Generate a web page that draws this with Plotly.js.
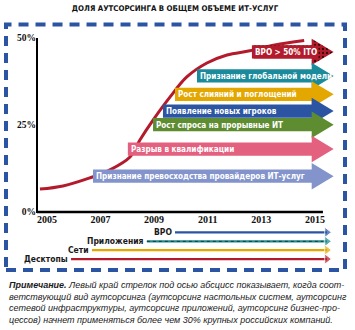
<!DOCTYPE html>
<html>
<head>
<meta charset="utf-8">
<script src="https://cdn.plot.ly/plotly-3.0.1.min.js"></script>
<style>html,body{margin:0;padding:0;background:#fff;}#chart{width:355px;height:330px;}
text{font-stretch:condensed;}</style>
</head>
<body>
<div id="chart"></div>
<script>
// ---- data ----
const curveYears = [2004.74, 2005.6, 2006.6, 2007.35, 2008.1, 2008.47, 2008.96, 2009.59, 2010.22, 2010.97, 2011.72, 2012.57, 2013.5, 2014.6];
const curveShare = [6.6, 7.5, 9.8, 12.1, 15.8, 20.7, 26.4, 33.0, 38.8, 42.8, 45.1, 46.3, 48.0, 49.3];

const trendLabels = ['BPO > 50% ITO', 'Признание глобальной модели', 'Рост слияний и поглощений', 'Появление новых игроков', 'Рост спроса на прорывные ИТ', 'Разрыв в квалификации', 'Признание превосходства провайдеров ИТ-услуг'];
const trendStart = [2012.65, 2010.6, 2009.78, 2009.33, 2008.96, 2008.02, 2006.72];
const trendLevel = [46.0, 39.1, 33.8, 29.0, 25.1, 18.1, 10.3];
const trendColors = ['#b31b2c', '#1b8a9b', '#e3a700', '#2b55a2', '#5e8c31', '#e4607f', '#8394cc'];
const trendTip = 2015.7;

const platformLabels = ['BPO', 'Приложения', 'Сети', 'Десктопы'];
const platformStart = [2009.78, 2008.73, 2006.68, 2005.9];
const platformLevel = [-5.83, -8.42, -10.92, -13.5];
const platformColors = ['#2b55a2', '#1e8a8c', '#e3a700', '#b31b2c'];
const platformEnd = 2015.45;

const xTickVals = [2005, 2007, 2009, 2011, 2013, 2015];
const yTickVals = [0, 25, 50];
const yTickText = ['0%', '25%', '50%'];

const titleText = 'ДОЛЯ АУТСОРСИНГА В ОБЩЕМ ОБЪЕМЕ ИТ-УСЛУГ';
const noteLines = [
  '<b>Примечание.</b> Левый край стрелок под осью абсцисс показывает, когда соот-',
  'ветствующий вид аутсорсинга (аутсорсинг настольных систем, аутсорсинг',
  'сетевой инфраструктуры, аутсорсинг приложений, аутсорсинг бизнес-про-',
  'цессов) начнет применяться более чем 30% крупных российских компаний.'
];

// ---- style ----
const shaftHalf = 1.9, headHalf = 3.8, headLen = 0.82;
const narrow = 'DejaVu Sans, sans-serif';

const traces = [];
traces.push({
  x: curveYears, y: curveShare, mode: 'lines', type: 'scatter',
  line: {color: '#b31b2c', width: 3, shape: 'spline'}, hoverinfo: 'skip', showlegend: false
});

const annotations = [];
trendLabels.forEach((lab, i) => {
  const s = trendStart[i], c = trendLevel[i], hs = trendTip - headLen;
  const trace = {
    type: 'scatter', mode: 'lines', fill: 'toself',
    x: [s, hs, hs, trendTip, hs, hs, s, s],
    y: [c - shaftHalf, c - shaftHalf, c - headHalf, c, c + headHalf, c + shaftHalf, c + shaftHalf, c - shaftHalf],
    fillcolor: trendColors[i], line: {width: 0, color: trendColors[i]},
    hoverinfo: 'skip', showlegend: false
  };
  if (i === 0) {
    trace.fillpattern = {shape: '.', fgcolor: '#3a0508', bgcolor: trendColors[i], size: 4, solidity: 0.25};
  }
  traces.push(trace);
  annotations.push({
    x: s, y: c, xref: 'x', yref: 'y', xanchor: 'left', yanchor: 'middle', xshift: 1,
    text: '<b>' + lab + '</b>', showarrow: false,
    bgcolor: i === 0 ? trendColors[i] : 'rgba(0,0,0,0)',
    font: {family: narrow, size: 8.1, color: '#ffffff'}
  });
});

platformLabels.forEach((lab, i) => {
  traces.push({
    type: 'scatter', mode: 'lines+markers',
    x: [platformStart[i], platformEnd], y: [platformLevel[i], platformLevel[i]],
    line: {color: platformColors[i], width: 2.2},
    marker: {symbol: ['circle', 'triangle-right'], size: [0, 9], color: platformColors[i]},
    hoverinfo: 'skip', showlegend: false
  });
  if (i === 1) {
    traces.push({
      type: 'scatter', mode: 'lines',
      x: [platformStart[i], platformEnd - 0.15], y: [platformLevel[i], platformLevel[i]],
      line: {color: '#0d3f40', width: 1, dash: 'dot'}, hoverinfo: 'skip', showlegend: false
    });
  }
  annotations.push({
    x: platformStart[i], y: platformLevel[i], xref: 'x', yref: 'y', xanchor: 'right', yanchor: 'middle', xshift: -1,
    text: '<b>' + lab + '</b>', showarrow: false,
    font: {family: narrow, size: 8.5, color: '#1a1a1a'}
  });
});

annotations.push({
  x: -0.1007, y: -0.052, xref: 'paper', yref: 'paper', xanchor: 'left', yanchor: 'top', align: 'left',
  text: '<i>' + noteLines.join('<br>') + '</i>', showarrow: false,
  font: {family: 'Liberation Sans, Arial, sans-serif', size: 9, color: '#1a1a1a'}
});

const xMin = 2004.63, xAxisEnd = 2015.3;
const layout = {
  width: 355, height: 330,
  margin: {l: 37, r: 20, t: 31, b: 64},
  paper_bgcolor: '#ffffff', plot_bgcolor: 'rgba(0,0,0,0)',
  title: {text: '<b>' + titleText + '</b>', x: 0.493, xref: 'container', y: 0.976, yref: 'container', yanchor: 'middle',
          font: {family: narrow, size: 7.8, color: '#111'}},
  xaxis: {range: [xMin, 2015.75], anchor: 'free', position: 0.2298, showgrid: false, zeroline: false, showline: false,
          ticks: '', tickvals: xTickVals, tickfont: {family: 'Liberation Serif, serif', size: 10, color: '#111', weight: 'bold'}},
  yaxis: {range: [-15.5, 52], showgrid: false, zeroline: false, showline: false, ticks: '',
          tickvals: yTickVals, ticktext: yTickText, tickfont: {family: 'Liberation Serif, serif', size: 9.5, color: '#111', weight: 'bold'}},
  shapes: [
    {type: 'line', xref: 'paper', yref: 'y', x0: 0, x1: 0, y0: -0.3, y1: 50, line: {color: '#000', width: 2}},
    {type: 'line', xref: 'x', yref: 'y', x0: xMin, x1: xAxisEnd, y0: 0, y1: 0, line: {color: '#000', width: 2.5}},
    {type: 'rect', xref: 'paper', yref: 'paper', x0: -0.104, x1: 1.0336, y0: -0.017, y1: 1.0277,
     line: {color: '#2b55a2', width: 4, dash: '10px,7px'}, fillcolor: 'rgba(0,0,0,0)'}
  ],
  annotations: annotations
};

Plotly.newPlot('chart', traces, layout, {displayModeBar: false, staticPlot: true});
</script>
</body>
</html>
